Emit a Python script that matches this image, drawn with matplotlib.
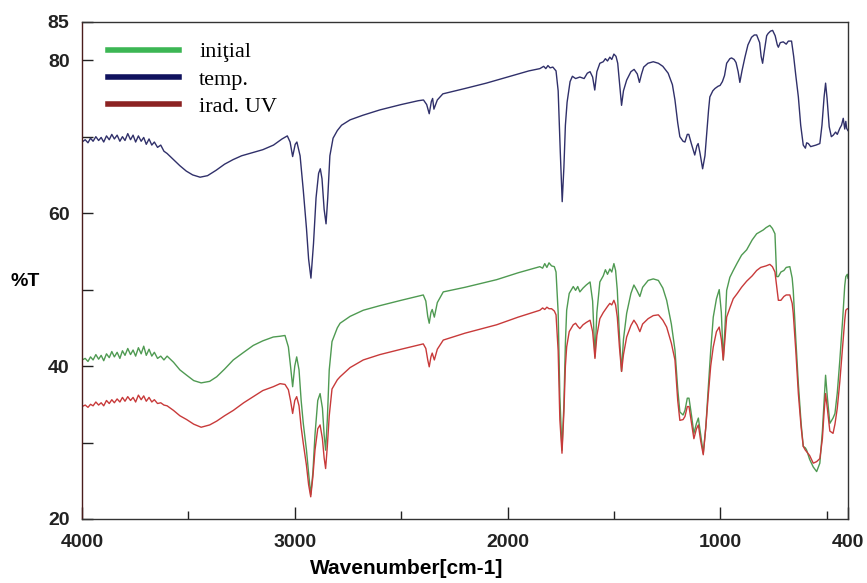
import numpy as np
import matplotlib
matplotlib.use("Agg")
import matplotlib.pyplot as plt
from matplotlib.lines import Line2D

# temp. (blue)
wn_temp = [4000, 3985, 3972, 3960, 3948, 3935, 3922, 3910, 3898, 3885, 3872, 3860, 3848, 3835, 3822, 3810,
           3798, 3785, 3772, 3760, 3748, 3735, 3722, 3710, 3698, 3685, 3672, 3660, 3645, 3630, 3615, 3600,
           3570, 3540, 3510, 3480, 3445, 3410, 3370, 3330, 3290, 3250, 3200, 3150, 3100, 3060, 3035, 3022,
           3010, 2998, 2990, 2975, 2960, 2945, 2935, 2924, 2912, 2900, 2888, 2880, 2872, 2862, 2853, 2845,
           2835, 2820, 2800, 2780, 2740, 2680, 2600, 2500, 2420, 2395, 2380, 2368, 2358, 2352, 2346, 2330,
           2304, 2200, 2100, 1975, 1900, 1848, 1830, 1820, 1810, 1800, 1787, 1772, 1762, 1752, 1743, 1735,
           1728, 1720, 1706, 1695, 1680, 1660, 1640, 1625, 1612, 1600, 1590, 1580, 1566, 1550, 1540, 1530,
           1519, 1510, 1500, 1490, 1482, 1472, 1464, 1455, 1440, 1420, 1405, 1390, 1380, 1370, 1360, 1340,
           1315, 1291, 1270, 1245, 1225, 1213, 1200, 1190, 1175, 1166, 1155, 1148, 1135, 1120, 1110, 1104,
           1095, 1083, 1072, 1064, 1055, 1049, 1035, 1025, 1010, 1001, 990, 980, 970, 955, 947, 935,
           926, 916, 908, 898, 884, 870, 853, 840, 829, 815, 808, 801, 794, 782, 775, 764,
           754, 742, 732, 727, 718, 704, 690, 680, 665, 655, 645, 633, 622, 610, 600, 594,
           586, 575, 563, 550, 532, 522, 512, 505, 498, 488, 478, 469, 458, 450, 438, 430,
           422, 415, 410, 406, 400]
t_temp = [69.3, 69.6, 69.2, 69.8, 69.4, 70.0, 69.5, 69.9, 69.3, 70.1, 69.6, 70.3, 69.7, 70.2, 69.4, 70.0,
          69.5, 70.4, 69.6, 70.2, 69.3, 70.1, 69.4, 69.9, 69.0, 69.7, 68.9, 69.3, 68.6, 68.9, 68.1, 67.8,
          67.0, 66.2, 65.5, 65.0, 64.7, 64.9, 65.6, 66.4, 67.0, 67.5, 67.9, 68.3, 68.9, 69.7, 70.1, 69.3,
          67.4, 69.0, 69.3, 67.5, 63.0, 58.0, 54.0, 51.5, 56.0, 62.0, 65.2, 65.8, 64.5, 60.5, 58.6, 62.0,
          67.5, 69.8, 70.8, 71.5, 72.2, 72.8, 73.5, 74.2, 74.7, 74.8, 74.2, 73.0, 74.6, 75.0, 73.6, 74.8,
          75.6, 76.3, 77.0, 78.0, 78.6, 78.9, 79.2, 78.9, 79.3, 79.0, 79.1, 78.6, 76.0, 68.0, 61.5, 66.0,
          71.5, 74.5, 77.2, 77.9, 77.6, 77.8, 77.6, 78.3, 78.5, 77.8, 76.1, 78.5, 79.6, 79.8, 80.2, 79.9,
          80.4, 80.1, 80.8, 80.5, 79.6, 76.5, 74.1, 76.0, 77.4, 78.5, 78.8, 78.2, 77.1, 78.2, 79.1, 79.6,
          79.8, 79.6, 79.2, 78.3, 76.8, 74.8, 71.8, 70.0, 69.4, 69.3, 70.3, 70.3, 69.0, 67.6, 68.8, 69.1,
          67.8, 65.8, 67.5, 70.4, 73.5, 75.2, 76.0, 76.3, 76.6, 76.7, 77.2, 78.0, 79.6, 80.2, 80.3, 80.1,
          79.7, 78.5, 77.1, 78.6, 80.4, 82.0, 83.0, 83.3, 83.3, 82.3, 80.5, 79.6, 81.0, 83.2, 83.5, 83.8,
          83.9, 83.2, 82.0, 81.7, 82.3, 82.4, 82.1, 82.5, 82.5, 80.5, 78.0, 75.2, 71.5, 68.9, 68.5, 69.2,
          69.1, 68.7, 68.8, 68.9, 69.1, 71.5, 75.2, 77.0, 75.0, 71.3, 70.0, 70.2, 70.6, 70.3, 71.1, 71.5,
          72.4, 71.0, 72.0, 71.1, 70.8]

# shared x positions for initial / irad. UV
wn_ir = [4000, 3985, 3972, 3960, 3948, 3935, 3922, 3910, 3898, 3885, 3872, 3860, 3848, 3835, 3822, 3810,
         3798, 3785, 3772, 3760, 3748, 3735, 3722, 3710, 3698, 3685, 3672, 3660, 3645, 3630, 3615, 3600,
         3570, 3540, 3508, 3475, 3440, 3400, 3367, 3330, 3289, 3240, 3195, 3150, 3101, 3069, 3046, 3030,
         3020, 3010, 3000, 2991, 2980, 2970, 2960, 2945, 2935, 2925, 2915, 2905, 2892, 2881, 2870, 2862,
         2855, 2847, 2838, 2825, 2800, 2787, 2740, 2678, 2600, 2500, 2396, 2384, 2375, 2368, 2360, 2354,
         2344, 2330, 2302, 2200, 2051, 1950, 1848, 1835, 1825, 1815, 1805, 1793, 1780, 1772, 1762, 1754,
         1744, 1735, 1728, 1722, 1710, 1691, 1680, 1670, 1660, 1645, 1630, 1612, 1600, 1589, 1580, 1566,
         1550, 1540, 1530, 1519, 1510, 1500, 1492, 1484, 1474, 1464, 1455, 1440, 1420, 1406, 1392, 1378,
         1365, 1339, 1315, 1291, 1270, 1252, 1230, 1213, 1200, 1190, 1175, 1166, 1155, 1147, 1135, 1124,
         1112, 1103, 1092, 1080, 1068, 1057, 1045, 1033, 1018, 1005, 995, 986, 978, 970, 955, 939,
         920, 900, 876, 850, 829, 810, 798, 785, 767, 755, 743, 735, 727, 715, 701, 690,
         673, 662, 657, 645, 633, 620, 610, 600, 594, 580, 563, 547, 532, 520, 512, 505,
         497, 485, 470, 461, 450, 438, 425, 415, 410, 403, 400]
t_init = [40.8, 41.0, 40.6, 41.2, 40.8, 41.5, 40.9, 41.4, 40.7, 41.6, 41.1, 41.9, 41.2, 41.8, 41.0, 42.0,
          41.4, 42.3, 41.5, 42.1, 41.3, 42.4, 41.6, 42.6, 41.4, 42.2, 41.3, 41.8, 41.0, 41.3, 40.8, 41.3,
          40.5, 39.5, 38.8, 38.1, 37.8, 38.0, 38.6, 39.6, 40.8, 41.8, 42.7, 43.3, 43.8, 43.9, 44.0, 42.5,
          40.0, 37.3, 40.0, 41.2, 39.5, 35.5, 32.5, 29.0, 26.0, 23.2, 26.0, 31.0, 35.5, 36.4, 34.5, 31.0,
          29.0, 33.0, 39.5, 43.2, 45.0, 45.6, 46.5, 47.3, 47.9, 48.6, 49.3, 48.5, 46.5, 45.6, 47.0, 47.4,
          46.4, 48.3, 49.7, 50.3, 51.3, 52.2, 53.0, 52.8, 53.4, 52.9, 53.5, 53.1, 53.0, 52.3, 47.0, 36.0,
          29.0, 35.0, 43.0, 47.3, 49.5, 50.4, 49.9, 50.4, 49.7, 50.2, 50.6, 51.0, 48.5, 41.2, 47.0, 51.0,
          51.8, 52.6, 52.0, 52.7, 52.3, 53.4, 52.5, 49.9, 44.0, 39.3, 43.5, 46.9, 49.5, 50.6, 49.9, 49.1,
          50.3, 51.2, 51.4, 51.2, 50.2, 48.6, 45.5, 42.1, 37.0, 34.0, 33.6, 34.2, 35.8, 35.8, 33.5, 31.2,
          32.5, 33.2, 31.0, 28.6, 32.0, 36.9, 42.0, 46.4, 48.8, 50.0, 47.0, 40.8, 45.0, 49.9, 51.6, 52.5,
          53.5, 54.5, 55.2, 56.5, 57.3, 57.6, 57.8, 58.1, 58.4, 58.0, 57.3, 51.7, 51.7, 52.3, 52.5, 52.9,
          53.0, 51.5, 49.9, 43.5, 37.7, 32.5, 29.5, 29.3, 29.0, 27.8, 26.8, 26.2, 27.3, 31.5, 35.5, 38.8,
          36.0, 32.5, 33.2, 33.8, 36.5, 40.8, 46.0, 50.5, 51.7, 52.0, 51.5]
t_uv = [34.7, 34.9, 34.6, 35.0, 34.8, 35.3, 34.9, 35.2, 34.8, 35.5, 35.1, 35.6, 35.2, 35.7, 35.3, 35.9,
        35.4, 36.0, 35.5, 35.9, 35.3, 36.2, 35.6, 36.1, 35.4, 35.9, 35.3, 35.6, 35.1, 35.2, 34.9, 34.8,
        34.2, 33.5, 33.0, 32.4, 32.0, 32.3, 32.8, 33.5, 34.2, 35.2, 36.0, 36.8, 37.3, 37.7, 37.6, 36.9,
        35.5, 33.8, 35.5, 36.0, 34.8, 32.0, 29.9, 27.0, 24.5, 22.9, 25.5, 29.0, 31.8, 32.3, 30.5, 28.0,
        26.6, 29.5, 33.5, 37.0, 38.2, 38.6, 39.8, 40.8, 41.5, 42.2, 42.9, 42.3, 40.8, 39.9, 41.2, 41.7,
        40.8, 42.2, 43.4, 44.3, 45.4, 46.4, 47.3, 47.6, 47.4, 47.7, 47.5, 47.5, 47.2, 46.7, 42.0, 33.0,
        28.6, 34.0, 40.0, 42.5, 44.5, 45.4, 45.6, 45.2, 44.9, 45.4, 45.7, 46.0, 44.5, 41.0, 44.0, 46.2,
        47.0, 47.4, 47.8, 48.2, 48.0, 48.6, 48.0, 46.4, 42.5, 39.3, 41.5, 43.8, 45.3, 46.0, 45.4, 44.5,
        45.5, 46.2, 46.6, 46.7, 46.0, 45.1, 43.0, 40.8, 35.5, 32.9, 33.0, 33.4, 34.7, 34.7, 32.5, 30.5,
        31.8, 32.3, 30.2, 28.4, 32.0, 36.0, 40.0, 42.5, 44.5, 45.1, 43.5, 40.8, 43.5, 46.4, 47.6, 48.8,
        49.5, 50.3, 51.1, 51.8, 52.5, 52.9, 53.0, 53.1, 53.3, 53.0, 52.3, 50.5, 48.6, 48.6, 49.1, 49.3,
        49.3, 48.2, 46.9, 42.0, 36.4, 32.0, 29.5, 29.0, 28.8, 28.3, 27.3, 27.5, 27.9, 30.5, 34.0, 36.4,
        34.5, 31.5, 31.2, 32.4, 34.5, 38.0, 42.5, 46.0, 47.3, 47.5, 47.5]

labels = ['iniţial', 'temp.', 'irad. UV']
line_colors = ['#4f9a52', '#30306a', '#c83a3a']
legend_colors = ['#3cb654', '#10125e', '#8c2222']

fig = plt.figure(figsize=(8.67, 5.83), dpi=100)
ax = fig.add_axes([0.0946, 0.1098, 0.8834, 0.8525])

ax.plot(wn_ir, t_init, color=line_colors[0], lw=1.0)
ax.plot(wn_temp, t_temp, color=line_colors[1], lw=1.0)
ax.plot(wn_ir, t_uv, color=line_colors[2], lw=1.0)

ax.set_xlim(4000, 400)
ax.set_ylim(20, 85)

ax.set_xticks([4000, 3000, 2000, 1000, 400])
ax.set_xticks([3500, 2500, 1500, 500], minor=True)
ax.set_yticks([20, 30, 40, 50, 60, 70, 80, 85])
ax.set_yticklabels(['20', '', '40', '', '60', '', '80', '85'])

tick_font = dict(family='Liberation Sans', weight='bold', size=14)
for lab in ax.get_xticklabels() + ax.get_yticklabels():
    lab.set_fontproperties(matplotlib.font_manager.FontProperties(**tick_font))
ax.tick_params(axis='x', which='major', direction='in', length=9, width=1, pad=11, colors='#222222')
ax.tick_params(axis='x', which='minor', direction='in', length=6, width=1, colors='#222222')
ax.tick_params(axis='y', direction='in', length=8, width=1, pad=9, colors='#222222')

for s in ax.spines.values():
    s.set_color('#333333')
    s.set_linewidth(1.0)
ax.spines['left'].set_color('#4a1c1c')

ax.set_xlabel('Wavenumber[cm-1]', fontfamily='Liberation Sans', fontweight='bold', fontsize=15)
ax.xaxis.set_label_coords(0.424, -0.099)
ax.xaxis.label.set_va('center')
ax.set_ylabel('%T', rotation=0, fontfamily='Liberation Sans', fontweight='bold', fontsize=14)
ax.yaxis.set_label_coords(-0.074, 0.477)
ax.yaxis.label.set_va('center')

handles = [Line2D([], [], color=c, lw=4) for c in legend_colors]
ax.legend(handles, labels, loc='upper left', bbox_to_anchor=(0.034, 0.96), frameon=False,
          prop={'family': 'Liberation Serif', 'size': 16}, handlelength=3.2, handletextpad=0.9,
          labelspacing=0.3, borderpad=0, borderaxespad=0)

fig.savefig('out.png', dpi=100)
